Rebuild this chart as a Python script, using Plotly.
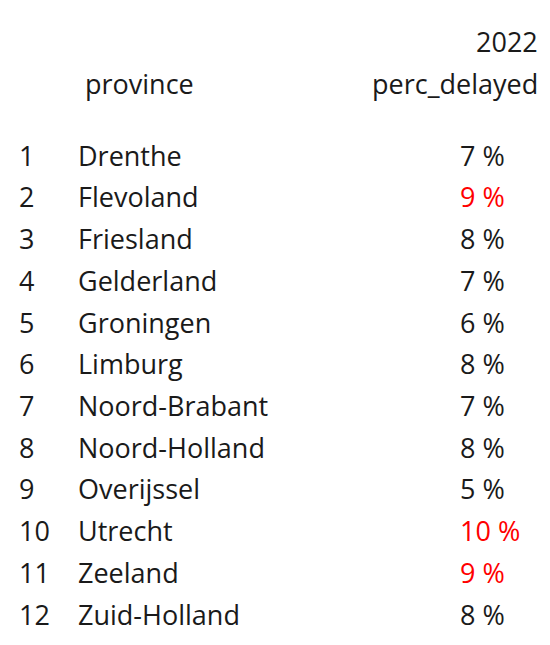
import plotly.graph_objects as go

ranks = list(range(1, 13))
provinces = ["Drenthe", "Flevoland", "Friesland", "Gelderland", "Groningen", "Limburg",
             "Noord-Brabant", "Noord-Holland", "Overijssel", "Utrecht", "Zeeland", "Zuid-Holland"]
perc_delayed = [7, 9, 8, 7, 6, 8, 7, 8, 5, 10, 9, 8]

font = dict(family="Open Sans", size=27, color="#1a1a1a")
value_colors = ["#ff0000" if v >= 9 else "#1a1a1a" for v in perc_delayed]

fig = go.Figure()
fig.add_trace(go.Scatter(x=[11] * 12, y=ranks, mode="text", text=[str(r) for r in ranks],
                         textposition="middle right", textfont=font, hoverinfo="skip"))
fig.add_trace(go.Scatter(x=[70] * 12, y=ranks, mode="text", text=provinces,
                         textposition="middle right", textfont=font, hoverinfo="skip"))
fig.add_trace(go.Scatter(x=[452] * 12, y=ranks, mode="text", text=[f"{v} %" for v in perc_delayed],
                         textposition="middle right",
                         textfont=dict(family="Open Sans", size=27, color=value_colors), hoverinfo="skip"))

fig.add_annotation(x=75, y=-0.80, text="province", xanchor="left", showarrow=False, font=font)
fig.add_annotation(x=532, y=-0.80, text="perc_delayed", xanchor="right", showarrow=False, font=font)
fig.add_annotation(x=532, y=-1.81, text="2022", xanchor="right", showarrow=False, font=font)

fig.update_layout(
    width=550, height=645, margin=dict(l=0, r=0, t=0, b=0),
    plot_bgcolor="white", paper_bgcolor="white", showlegend=False,
    xaxis=dict(range=[0, 550], visible=False, fixedrange=True),
    yaxis=dict(range=[12.84, -2.615], visible=False, fixedrange=True),
)
fig.write_html("out.html")
